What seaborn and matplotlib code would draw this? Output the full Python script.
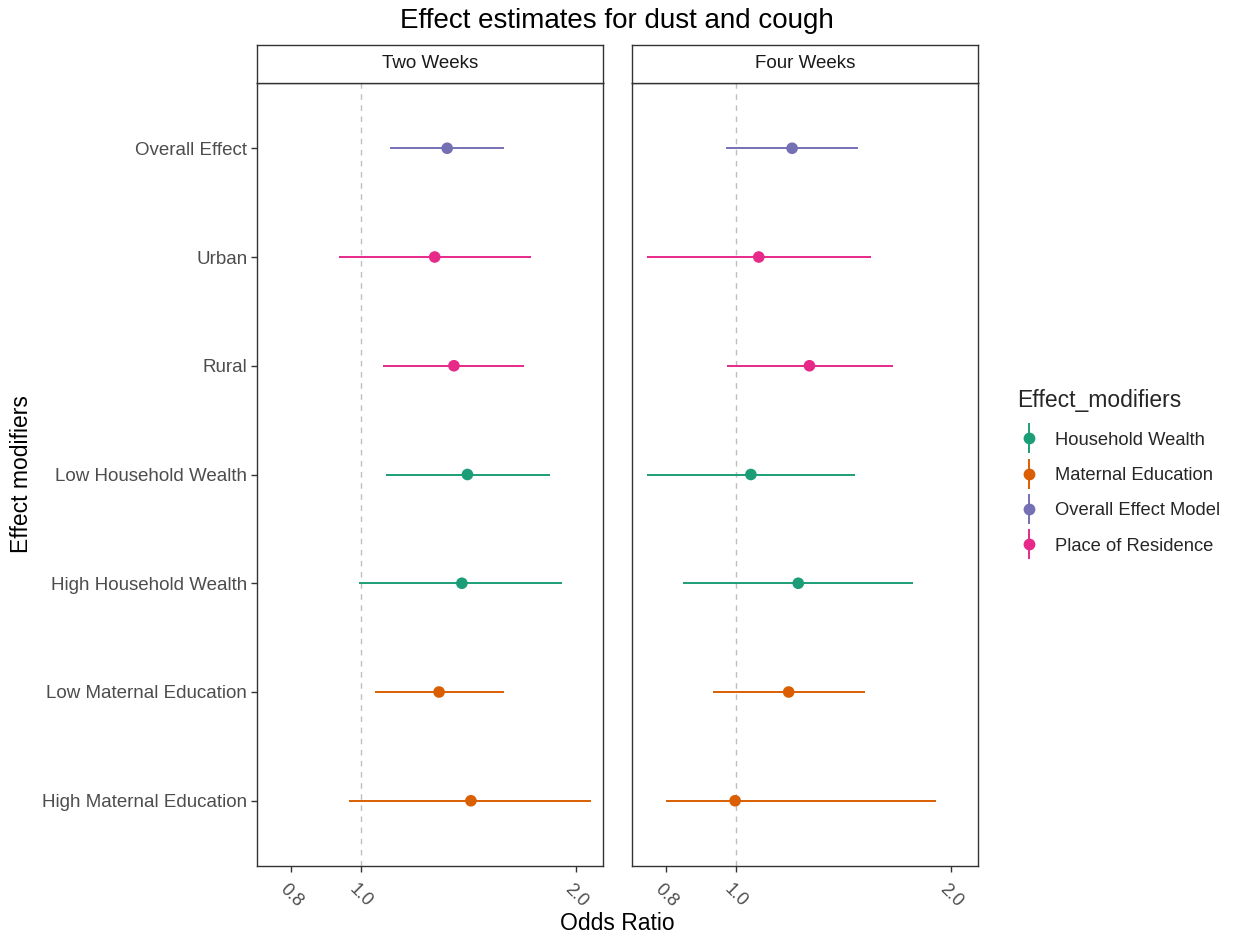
import numpy as np
import pandas as pd
import matplotlib
matplotlib.use("Agg")
import matplotlib.pyplot as plt
import seaborn as sns
from matplotlib.lines import Line2D
from matplotlib.legend_handler import HandlerTuple
from matplotlib.ticker import FixedLocator, FixedFormatter, NullLocator

# ---- data ----
categories = ["Overall Effect", "Urban", "Rural", "Low Household Wealth",
              "High Household Wealth", "Low Maternal Education", "High Maternal Education"]
groups = ["Overall Effect Model", "Place of Residence", "Place of Residence",
          "Household Wealth", "Household Wealth", "Maternal Education", "Maternal Education"]
periods = ["Two Weeks", "Four Weeks"]

or_two = [1.321, 1.269, 1.350, 1.410, 1.385, 1.287, 1.426]
lo_two = [1.100, 0.931, 1.073, 1.085, 0.995, 1.046, 0.964]
hi_two = [1.587, 1.730, 1.694, 1.838, 1.915, 1.585, 2.098]

or_four = [1.199, 1.077, 1.268, 1.050, 1.223, 1.186, 0.998]
lo_four = [0.970, 0.751, 0.973, 0.751, 0.844, 0.930, 0.798]
hi_four = [1.484, 1.545, 1.658, 1.468, 1.771, 1.514, 1.904]

legend_order = ["Household Wealth", "Maternal Education", "Overall Effect Model", "Place of Residence"]
palette = {"Household Wealth": "#1B9E77", "Maternal Education": "#D95F02",
           "Overall Effect Model": "#7570B3", "Place of Residence": "#E7298A"}

x_ticks = [0.8, 1.0, 2.0]
x_tick_labels = ["0.8", "1.0", "2.0"]

frames = []
for p, o, l, h in [(periods[0], or_two, lo_two, hi_two), (periods[1], or_four, lo_four, hi_four)]:
    frames.append(pd.DataFrame({"period": p, "label": categories, "group": groups,
                                "OR": o, "lo": l, "hi": h}))
df = pd.concat(frames, ignore_index=True)
df["ypos"] = df["label"].map({c: i for i, c in enumerate(categories)})

# ---- plot ----
sns.set_theme(style="white")
plt.rcParams["font.family"] = ["Liberation Sans", "DejaVu Sans"]

W, H = 1233, 936
fig = plt.figure(figsize=(W / 100, H / 100), dpi=100)

panel_left = [257, 632]
panel_w = 346
top_px, bot_px, strip_top = 83, 866, 45
edge = "#333333"

for i, period in enumerate(periods):
    ax = fig.add_axes([panel_left[i] / W, 1 - bot_px / H, panel_w / W, (bot_px - top_px) / H])
    sub = df[df["period"] == period]
    ax.axvline(1.0, color="#BEBEBE", linestyle=(0, (4, 4)), linewidth=1.0, zorder=1)
    ax.hlines(sub["ypos"], sub["lo"], sub["hi"], colors=[palette[g] for g in sub["group"]],
              linewidth=1.4, zorder=2)
    sns.scatterplot(data=sub, x="OR", y="ypos", hue="group", palette=palette, ax=ax,
                    legend=False, s=70, edgecolor="none", zorder=3)
    ax.set_xscale("log")
    ax.set_xlim(0.716, 2.182)
    ax.set_ylim(len(categories) - 0.4, -0.6)
    ax.xaxis.set_major_locator(FixedLocator(x_ticks))
    ax.xaxis.set_major_formatter(FixedFormatter(x_tick_labels))
    ax.xaxis.set_minor_locator(NullLocator())
    ax.set_xlabel("")
    ax.set_ylabel("")
    for s in ax.spines.values():
        s.set_color(edge)
        s.set_linewidth(1.0)
    ax.tick_params(axis="x", length=4, width=1, color=edge, labelsize=13, labelcolor="#4D4D4D",
                   bottom=True, pad=7)
    for t in ax.get_xticklabels():
        t.set_rotation(-45)
        t.set_ha("center")
        t.set_va("top")
    if i == 0:
        ax.set_yticks(range(len(categories)))
        ax.set_yticklabels(categories)
        ax.tick_params(axis="y", length=4, width=1, color=edge, labelsize=13.5,
                       labelcolor="#4D4D4D", left=True, pad=3)
    else:
        ax.set_yticks([])
    ax.grid(False)

    # strip
    sax = fig.add_axes([panel_left[i] / W, 1 - top_px / H, panel_w / W, (top_px - strip_top) / H])
    sax.set_xticks([]); sax.set_yticks([])
    for s in sax.spines.values():
        s.set_color(edge)
        s.set_linewidth(1.0)
    sax.set_facecolor("white")
    sax.text(0.5, 0.5, period, ha="center", va="center", fontsize=13.5, color="#1A1A1A",
             transform=sax.transAxes)

fig.text(617 / W, 1 - 21 / H, "Effect estimates for dust and cough", ha="center", va="center",
         fontsize=20, color="black")
fig.text(617 / W, 1 - 924 / H, "Odds Ratio", ha="center", va="center", fontsize=16.5, color="black")
fig.text(22 / W, 1 - 474 / H, "Effect modifiers", ha="center", va="center", rotation=90,
         fontsize=16.5, color="black")

handles = []
for g in legend_order:
    vline = Line2D([], [], color=palette[g], marker="|", linestyle="none", markersize=22,
                   markeredgewidth=1.4)
    dot = Line2D([], [], color=palette[g], marker="o", linestyle="none", markersize=8.5,
                 markeredgewidth=0)
    handles.append((vline, dot))
leg = fig.legend(handles=handles, labels=legend_order, title="Effect_modifiers",
                 loc="center left", bbox_to_anchor=(1002 / W, 1 - 472 / H),
                 frameon=False, fontsize=13.2, title_fontsize=16.5,
                 handler_map={tuple: HandlerTuple(ndivide=1, pad=0)},
                 handlelength=1.3, handletextpad=0.8, labelspacing=1.0, borderpad=0.3)
leg._legend_box.align = "left"
leg._legend_box.sep = 14

fig.savefig("out.png", dpi=100, facecolor="white")
